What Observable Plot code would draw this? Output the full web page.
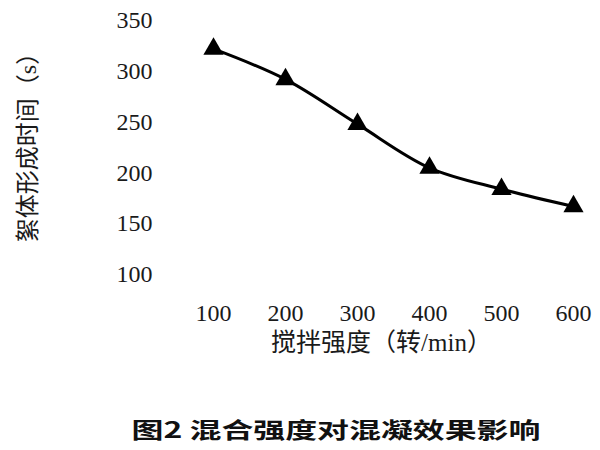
<!DOCTYPE html>
<html><head><meta charset="utf-8">
<script src="https://cdn.jsdelivr.net/npm/d3@7"></script>
<script src="https://cdn.jsdelivr.net/npm/@observablehq/plot@0.6"></script>
<style>
body{margin:0;background:#fff;width:600px;height:450px;position:relative;overflow:hidden;}
#cap{position:absolute;left:0;top:412px;width:600px;text-align:center;}
#cap span{display:inline-block;font-family:"Noto Sans CJK SC",sans-serif;font-weight:bold;font-size:22px;color:#111;transform:scaleX(1.45);transform-origin:center;margin-left:72px;}
</style>
</head><body><div id="chart"></div><div id="cap"><span>图2 混合强度对混凝效果影响</span></div>
<script>
const speeds = [100, 200, 300, 400, 500, 600];
const times = [322, 292, 248, 205, 184, 167];
const yTicks = [100, 150, 200, 250, 300, 350];
const xLabel = "搅拌强度（转/min）";
const yLabel = "絮体形成时间（s）";
const data = speeds.map((s, i) => ({s, t: times[i]}));
const plot = Plot.plot({
  width: 600, height: 372,
  marginLeft: 213, marginRight: 27, marginTop: 20, marginBottom: 98,
  style: {fontFamily: '"Liberation Serif","Noto Sans CJK SC",serif', fontSize: "24px", color: "#1a1a1a", background: "white", overflow: "visible"},
  x: {domain: [100, 600], ticks: speeds, tickSize: 0, tickPadding: 29, label: null},
  y: {domain: [100, 350], ticks: yTicks, tickSize: 0, tickPadding: 61, label: null},
  marks: [
    Plot.text([xLabel], {frameAnchor: "bottom", textAnchor: "middle", dy: 76, dx: -12, fontSize: 25, fill: "#1a1a1a"}),
    Plot.text([yLabel], {frameAnchor: "left", textAnchor: "middle", dx: -185, dy: -6, rotate: -90, fontSize: 24, fill: "#1a1a1a"}),
    Plot.line(data, {x: "s", y: "t", curve: "catmull-rom", strokeWidth: 3, stroke: "#000"}),
    Plot.dot(data, {x: "s", y: "t", symbol: "triangle", r: 7.5, fill: "#000"})
  ]
});
document.getElementById("chart").append(plot);
</script>
</body></html>
